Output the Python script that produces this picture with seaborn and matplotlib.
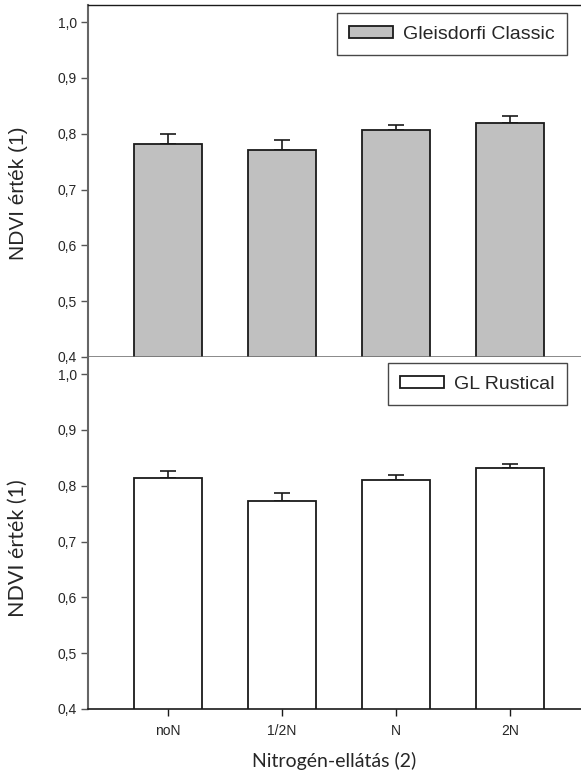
import matplotlib
matplotlib.use("Agg")
import matplotlib.pyplot as plt
import seaborn as sns
import pandas as pd
import numpy as np
from matplotlib.patches import Patch

# Nitrogen supply levels and NDVI means with standard errors per variety
treatments = ["noN", "1/2N", "N", "2N"]
classic_mean = [0.782, 0.770, 0.807, 0.819]
classic_err = [0.018, 0.019, 0.009, 0.012]
rustical_mean = [0.814, 0.773, 0.810, 0.832]
rustical_err = [0.013, 0.014, 0.010, 0.007]
yticks = [0.4, 0.5, 0.6, 0.7, 0.8, 0.9, 1.0]

sns.set_theme(style="white")
plt.rcParams["font.family"] = ["Liberation Sans", "DejaVu Sans"]

fig = plt.figure(figsize=(5.81, 7.74), dpi=100)
left, right = 88 / 581, 1.0
ax_top = fig.add_axes([left, 1 - 357 / 774, right - left, 352 / 774])
ax_bot = fig.add_axes([left, 1 - 709 / 774, right - left, 352 / 774])

panels = [
    (ax_top, classic_mean, classic_err, "#c0c0c0", "Gleisdorfi Classic",
     0.977, ["Liberation Sans", "DejaVu Sans"], 15, 0.466),
    (ax_bot, rustical_mean, rustical_err, "#ffffff", "GL Rustical",
     0.983, ["Lato", "DejaVu Sans"], 15.5, 0.457),
]

for ax, means, errs, color, name, ytop, lfam, lsize, ly in panels:
    df = pd.DataFrame({"treatment": treatments, "ndvi": means})
    sns.barplot(data=df, x="treatment", y="ndvi", ax=ax, color=color,
                width=0.6, edgecolor="#1a1a1a", linewidth=1.3,
                errorbar=None, saturation=1, zorder=2)
    x = np.arange(len(treatments))
    ax.errorbar(x, means, yerr=[np.zeros(len(errs)), errs], fmt="none",
                ecolor="#1a1a1a", elinewidth=1.2, capsize=5.5, capthick=1.2,
                zorder=1)
    ax.set_ylim(0.4, 1.0305)
    ax.set_xlim(-0.70, 3.62)
    ax.set_yticks(yticks)
    ax.set_yticklabels([f"{v:.1f}".replace(".", ",") for v in yticks],
                       fontsize=10)
    ax.tick_params(axis="y", direction="out", length=5, width=1,
                   color="#555555", pad=3, left=True)
    ax.set_ylabel("NDVI érték (1)", family=lfam, fontsize=lsize)
    ax.yaxis.set_label_coords(-0.1217, ly)
    ax.spines["right"].set_visible(False)
    ax.spines["left"].set_color("#666666")
    ax.spines["left"].set_linewidth(1.5)
    leg = ax.legend(handles=[Patch(facecolor=color, edgecolor="#1a1a1a",
                                   linewidth=1.3, label=name)],
                    loc="upper right", bbox_to_anchor=(0.9716, ytop),
                    fontsize=14, frameon=True, fancybox=False,
                    handlelength=2.25, handleheight=0.55, handletextpad=0.5,
                    borderpad=0.65, borderaxespad=0)
    leg.get_frame().set_edgecolor("#1a1a1a")
    leg.get_frame().set_linewidth(1.0)

# Upper panel: shares the dividing line with the lower one
ax_top.set_xlabel("")
ax_top.set_xticks([])
ax_top.spines["top"].set_color("#1a1a1a")
ax_top.spines["top"].set_linewidth(1.0)
ax_top.spines["bottom"].set_color("#666666")
ax_top.spines["bottom"].set_linewidth(1.8)

# Lower panel
ax_bot.spines["top"].set_visible(False)
ax_bot.spines["bottom"].set_color("#1a1a1a")
ax_bot.spines["bottom"].set_linewidth(1.2)
ax_bot.tick_params(axis="x", direction="out", length=5, width=1,
                   color="#1a1a1a", bottom=True, labelsize=10, pad=6)
ax_bot.set_xlabel("Nitrogén-ellátás (2)", family=["Lato", "DejaVu Sans"],
                  fontsize=14, labelpad=10)

fig.savefig("out.png", dpi=100)
